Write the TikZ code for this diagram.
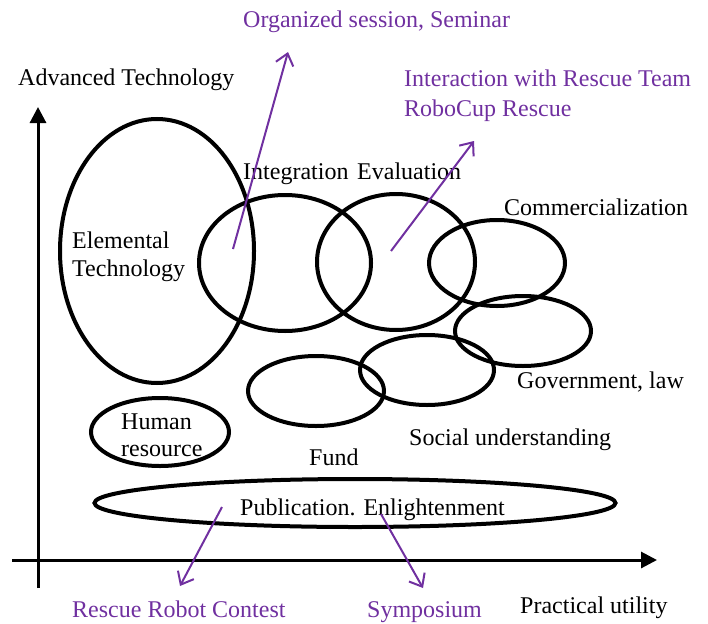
\documentclass[tikz,border=0pt]{standalone}
\usepackage{fontspec}
\setmainfont{Liberation Serif}
\usetikzlibrary{shapes.geometric,arrows.meta}
\definecolor{vio}{RGB}{112,48,160}
\begin{document}
\begin{tikzpicture}[x=1pt,y=-1pt,
  ring/.style={draw,ellipse,line width=4pt,inner sep=0pt,outer sep=0pt},
  lbl/.style={anchor=base west,inner sep=0pt,font=\fontsize{24}{28}\selectfont},
  plbl/.style={lbl,text=vio},
  axis/.style={line width=3pt,-{Triangle[length=16pt,width=16pt]}},
  parrow/.style={vio,line width=2pt,-{Straight Barb[length=11pt,width=18pt,line width=2pt]}}]
\useasboundingbox (0,0) rectangle (708,623);
% axes
\coordinate (vb) at (38,588);
\coordinate (vt) at (38,107);
\coordinate (hl) at (12,560);
\coordinate (hr) at (657,560);
\draw[axis] (vb) -- (vt);
\draw[axis] (hl) -- (hr);
% ellipses
\node[ring,minimum width=194pt,minimum height=264pt] (elem) at (157,251) {};
\node[ring,minimum width=172pt,minimum height=136pt] (integ) at (285,263) {};
\node[ring,minimum width=158pt,minimum height=136pt] (eval) at (396,262) {};
\node[ring,minimum width=136pt,minimum height=86pt] (comm) at (497,263) {};
\node[ring,minimum width=136pt,minimum height=70pt] (gov) at (523,331) {};
\node[ring,minimum width=134pt,minimum height=70pt] (soc) at (427,370) {};
\node[ring,minimum width=136pt,minimum height=70pt] (fund) at (316,391) {};
\node[ring,minimum width=138pt,minimum height=68pt] (human) at (160,432) {};
\node[ring,minimum width=521pt,minimum height=48pt] (pub) at (355,503) {};
% labels
\node[lbl] (tadv) at (18,86) {Advanced Technology};
\node[lbl] (tint) at (243,179) {Integration};
\node[lbl] (teval) at (357,179) {Evaluation};
\node[lbl] (tcomm) at (504,215) {Commercialization};
\node[lbl] (telem1) at (72,248) {Elemental};
\node[lbl] (telem2) at (72,276) {Technology};
\node[lbl] (tgov) at (517,388) {Government, law};
\node[lbl] (tsoc) at (409,445) {Social understanding};
\node[lbl] (thum1) at (121,429) {Human};
\node[lbl] (thum2) at (121,456) {resource};
\node[lbl] (tfund) at (309,465) {Fund};
\node[lbl] (tpub) at (240,515) {Publication. Enlightenment};
\node[lbl] (tprac) at (520,613) {Practical utility};
\node[plbl] (torg) at (243,28) {Organized session, Seminar};
\node[plbl] (tinter1) at (404,87) {Interaction with Rescue Team};
\node[plbl] (tinter2) at (404,116) {RoboCup Rescue};
\node[plbl] (trrc) at (72,617) {Rescue Robot Contest};
\node[plbl] (tsym) at (367,617) {Symposium};
% purple arrows
\coordinate (a1s) at (233,249);
\coordinate (a1e) at (288,52);
\coordinate (a2s) at (391,251);
\coordinate (a2e) at (474,141);
\coordinate (a3s) at (222,507);
\coordinate (a3e) at (180,586);
\coordinate (a4s) at (381,514);
\coordinate (a4e) at (423,588);
\draw[parrow] (a1s) -- (a1e);
\draw[parrow] (a2s) -- (a2e);
\draw[parrow] (a3s) -- (a3e);
\draw[parrow] (a4s) -- (a4e);
\end{tikzpicture}
\end{document}
